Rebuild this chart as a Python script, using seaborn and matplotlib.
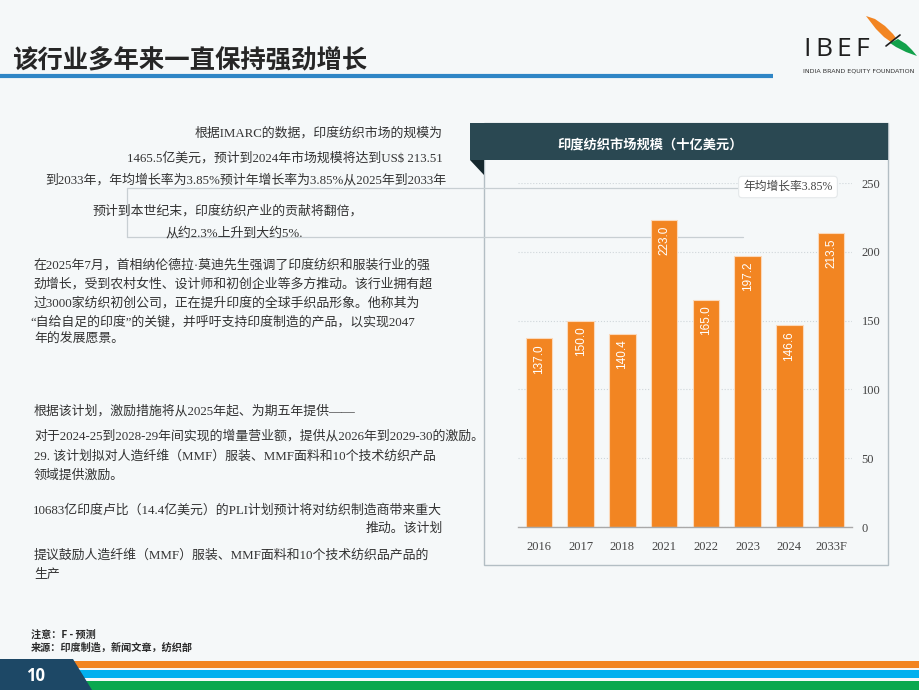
import numpy as np
import matplotlib
matplotlib.use('Agg')
import matplotlib.pyplot as plt
from matplotlib.patches import Rectangle, Polygon
from matplotlib.lines import Line2D
import seaborn as sns

# ==========================================
# Data
# ==========================================
years = ['2016', '2017', '2018', '2021', '2022', '2023', '2024', '2033F']
market_size = [137.0, 150.0, 140.4, 223.0, 165.0, 197.2, 146.6, 213.5]
y_ticks = [0, 50, 100, 150, 200, 250]

slide_title = '该行业多年来一直保持强劲增长'
chart_title = '印度纺织市场规模（十亿美元）'
cagr_note = '年均增长率3.85%'
footnotes = ['注意：F - 预测', '来源：印度制造，新闻文章，纺织部']
page_no = '10'

# (x, y, ha, text) in slide pixels
body_lines = [
    (443, 133, 'right', '根据IMARC的数据，印度纺织市场的规模为'),
    (443, 158, 'right', '1465.5亿美元，预计到2024年市场规模将达到US$ 213.51'),
    (446, 180, 'right', '到2033年，年均增长率为3.85%预计年增长率为3.85%从2025年到2033年'),
    (228, 211, 'center', '预计到本世纪末，印度纺织产业的贡献将翻倍，'),
    (234, 233, 'center', '从约2.3%上升到大约5%.'),
    (34, 265, 'left', '在2025年7月，首相纳伦德拉·莫迪先生强调了印度纺织和服装行业的强'),
    (34, 284, 'left', '劲增长，受到农村女性、设计师和初创企业等多方推动。该行业拥有超'),
    (34, 303, 'left', '过3000家纺织初创公司，正在提升印度的全球手织品形象。他称其为'),
    (30, 322, 'left', '“自给自足的印度”的关键，并呼吁支持印度制造的产品，以实现2047'),
    (34, 340, 'left', '年的发展愿景。'),
    (34, 411, 'left', '根据该计划，激励措施将从2025年起、为期五年提供——'),
    (34, 436, 'left', '对于2024-25到2028-29年间实现的增量营业额，提供从2026年到2029-30的激励。'),
    (34, 457, 'left', '29. 该计划拟对人造纤维（MMF）服装、MMF面料和10个技术纺织产品'),
    (34, 476, 'left', '领域提供激励。'),
    (33, 510, 'left', '10683亿印度卢比（14.4亿美元）的PLI计划预计将对纺织制造商带来重大'),
    (443, 529, 'right', '推动。该计划'),
    (34, 556, 'left', '提议鼓励人造纤维（MMF）服装、MMF面料和10个技术纺织品产品的'),
    (34, 575, 'left', '生产'),
]

# ==========================================
# Style
# ==========================================
W, H = 920, 690
BG = '#f5f8f9'
ORANGE = '#f28522'
TEAL = '#2a4852'
TEXT = '#333333'
SERIF_CJK = ['Liberation Serif', 'Noto Sans CJK SC']
SANS_CJK = ['Noto Sans CJK SC', 'DejaVu Sans']

sns.set_theme(style='white')
plt.rcParams['font.family'] = SANS_CJK
plt.rcParams['axes.unicode_minus'] = False


def fx(x):
    return x / W


def fy(y):
    return 1 - y / H


fig = plt.figure(figsize=(W / 100, H / 100), dpi=100, facecolor=BG)


def add_text(x, y, s, **kw):
    return fig.text(fx(x), fy(y), s, **kw)


def add_line(xs, ys, **kw):
    fig.add_artist(Line2D([fx(v) for v in xs], [fy(v) for v in ys],
                          transform=fig.transFigure, **kw))


def add_rect(x0, y0, x1, y1, **kw):
    fig.add_artist(Rectangle((fx(x0), fy(y1)), (x1 - x0) / W, (y1 - y0) / H,
                             transform=fig.transFigure, **kw))


def add_poly(pts, **kw):
    fig.add_artist(Polygon([(fx(a), fy(b)) for a, b in pts], closed=True,
                           transform=fig.transFigure, **kw))


# ==========================================
# Slide header
# ==========================================
add_text(12, 60, slide_title, fontsize=18.3, fontweight='bold', color='#262626',
         va='center', ha='left', family=SANS_CJK)
add_line([0, 773], [75.5, 75.5], color='#2f86c6', linewidth=3, solid_capstyle='butt')

# IBEF logo
for ch, lx in zip('IBEF', [803, 815, 836, 855]):
    add_text(lx, 49, ch, fontsize=19, color='#1f1f1f', va='center',
             ha='left', family=['Open Sans', 'DejaVu Sans'])
add_text(803, 71, 'INDIA BRAND EQUITY FOUNDATION', fontsize=4.6, color='#333333',
         va='center', ha='left', family=['DejaVu Sans'])
add_poly([(866, 16), (875, 19), (885, 26), (893, 34), (896, 38), (891, 42), (884, 37), (876, 29)],
         facecolor='#f28522', edgecolor='none')
add_poly([(890, 43), (898, 39), (906, 44), (912, 50), (917, 56), (906, 52), (896, 47)],
         facecolor='#12a14b', edgecolor='none')
add_line([886, 900], [46, 35], color='#1f1f1f', linewidth=1.2)

# ==========================================
# Left text column
# ==========================================
for x, y, ha, s in body_lines:
    add_text(x, y, s, fontsize=9.3, color=TEXT, ha=ha, va='center', family=SERIF_CJK)

# light callout frame behind the text / chart
add_line([127, 748], [188, 188], color='#c8cfd3', linewidth=0.9, zorder=-1)
add_line([127, 127], [188, 237], color='#c8cfd3', linewidth=0.9, zorder=-1)
add_line([127, 743], [237, 237], color='#c8cfd3', linewidth=0.9, zorder=-1)

# ==========================================
# Chart panel
# ==========================================
add_rect(484, 123, 888, 565, facecolor='none', edgecolor='#b3bec4', linewidth=1, zorder=-2)
add_rect(470, 123, 888, 160, facecolor=TEAL, edgecolor='none', zorder=3)
add_poly([(470, 160), (484, 160), (484, 175)], facecolor='#16282e', edgecolor='none', zorder=3)
add_text(650, 145, chart_title, fontsize=9.5, fontweight='bold', color='white',
         ha='center', va='center', family=SANS_CJK, zorder=4)

ax = fig.add_axes([fx(518), fy(527), (852 - 518) / W, (527 - 183) / H])
ax.set_facecolor('none')
sns.barplot(x=years, y=market_size, ax=ax, color=ORANGE, saturation=1,
            width=0.63, edgecolor='#fbd9bb', linewidth=0.8, zorder=2)

for i, v in enumerate(market_size):
    ax.annotate(f'{v:.1f}', xy=(i, v), xytext=(0, -4), textcoords='offset points',
                rotation=90, ha='center', va='top', color='white', fontsize=8.5,
                family=['Liberation Sans', 'DejaVu Sans'], zorder=3)

ax.set_xlim(-0.5, len(years) - 0.5)
ax.set_ylim(0, 250)
ax.set_yticks(y_ticks)
ax.yaxis.tick_right()
ax.yaxis.grid(True, linestyle=':', color='#cfd6da', linewidth=0.8)
ax.set_axisbelow(True)
for side in ['top', 'left', 'right']:
    ax.spines[side].set_visible(False)
ax.spines['bottom'].set_color('#a9a9a9')
ax.spines['bottom'].set_linewidth(1)

ax.set_xticks(np.arange(len(years)))
ax.set_xticklabels(years)
ax.set_xticks(np.arange(len(years) + 1) - 0.5, minor=True)
ax.tick_params(axis='x', which='major', length=0, pad=10, labelsize=9, labelcolor='#444444')
ax.tick_params(axis='x', which='minor', length=5, width=1, color='#a9a9a9', direction='out')
ax.tick_params(axis='y', length=0, pad=7, labelsize=9, labelcolor='#444444')
for lab in ax.get_xticklabels() + ax.get_yticklabels():
    lab.set_family(['Liberation Serif', 'DejaVu Serif'])
ax.set_xlabel('')
ax.set_ylabel('')

add_text(788, 187, cagr_note, fontsize=8.5, color='#444444', ha='center', va='center',
         family=SERIF_CJK, zorder=6,
         bbox=dict(boxstyle='round,pad=0.4,rounding_size=0.3', facecolor='white',
                   edgecolor='#e4e8ea', linewidth=0.8))

# ==========================================
# Footer
# ==========================================
for k, s in enumerate(footnotes):
    add_text(31, 635 + k * 12.5, s, fontsize=7.3, fontweight='bold', color='#2b2b2b',
             ha='left', va='center', family=SANS_CJK)

add_poly([(73, 661), (W, 661), (W, 668), (76, 668)], facecolor='#f28522', edgecolor='none')
add_poly([(79, 670), (W, 670), (W, 678), (82, 678)], facecolor='#00b0ef', edgecolor='none')
add_poly([(84, 681), (W, 681), (W, 690), (88, 690)], facecolor='#0aa84f', edgecolor='none')
add_poly([(0, 659), (73, 659), (92, 690), (0, 690)], facecolor='#1d4866', edgecolor='none')
add_text(36, 676, page_no, fontsize=12, fontweight='bold', color='white',
         ha='center', va='center', family=['Open Sans', 'DejaVu Sans'])

fig.savefig('out.png', dpi=100, facecolor=BG)
